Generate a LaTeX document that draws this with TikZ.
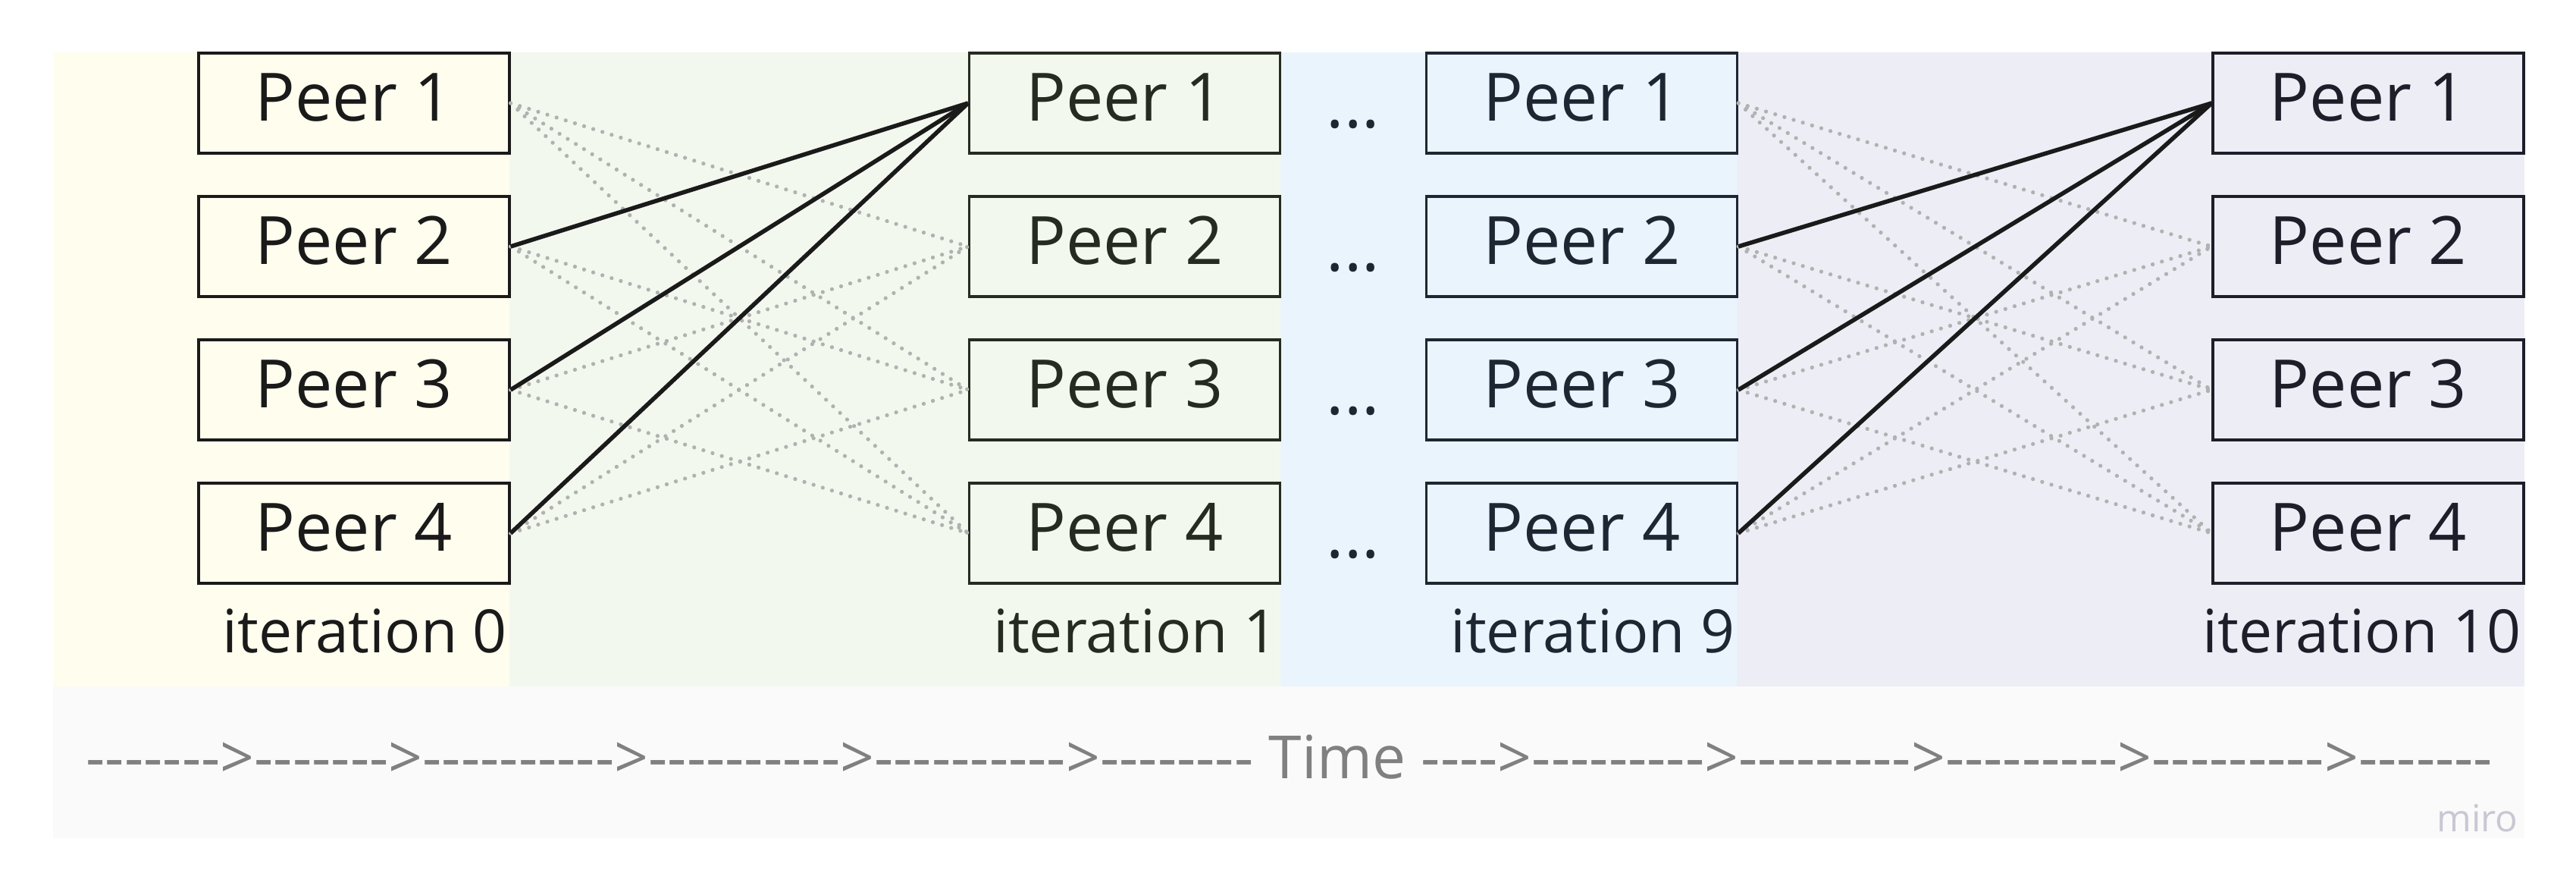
\documentclass[tikz,border=0pt]{standalone}
\usepackage{fontspec}
\setmainfont{Open Sans}
\newfontfamily\timefont{Open Sans}[Ligatures=TeXOff]
\usetikzlibrary{calc}

\definecolor{panelzero}{RGB}{255,254,238}
\definecolor{panelone}{RGB}{243,248,239}
\definecolor{panelnine}{RGB}{234,244,253}
\definecolor{panelten}{RGB}{237,237,246}
\definecolor{timeband}{RGB}{250,250,250}
\definecolor{inkzero}{RGB}{26,26,26}
\definecolor{inkone}{RGB}{38,43,34}
\definecolor{inknine}{RGB}{29,38,50}
\definecolor{inkten}{RGB}{30,30,42}
\definecolor{meshgray}{RGB}{176,178,176}
\definecolor{timegray}{RGB}{128,128,128}
\definecolor{mirogray}{RGB}{200,200,212}

\begin{document}
\begin{tikzpicture}[
        peer/.style={draw, minimum width=4.1cm, minimum height=1.32cm, inner sep=0pt, line width=0.9pt, text height=17.9pt, text depth=4.8pt, font=\fontsize{25}{30}\selectfont},
        iterlabel/.style={anchor=base east, inner sep=0pt, font=\fontsize{22.4}{26}\selectfont},
        skipdots/.style={anchor=base, inner sep=0pt, text=inknine, font=\fontsize{25}{30}\selectfont},
        gossip/.style={meshgray, line width=1.5pt, line cap=round, dash pattern=on 0.01pt off 3.6pt},
        pull/.style={inkzero, line width=1.6pt}]
        \useasboundingbox (0,0) rectangle (33.98,-11.76);
        % background panels
        \fill[panelzero] (0.70,-0.69) rectangle (6.72,-9.05);
        \fill[panelone] (6.72,-0.69) rectangle (16.89,-9.05);
        \fill[panelnine] (16.89,-0.69) rectangle (22.91,-9.05);
        \fill[panelten] (22.91,-0.69) rectangle (33.30,-9.05);
        \fill[timeband] (0.70,-9.05) rectangle (33.30,-11.05);

        % iteration 0
        \node[peer, draw=inkzero, text=inkzero] (it0p1) at (4.67,-1.36) {Peer 1};
        \node[peer, draw=inkzero, text=inkzero] (it0p2) at (4.67,-3.25) {Peer 2};
        \node[peer, draw=inkzero, text=inkzero] (it0p3) at (4.67,-5.14) {Peer 3};
        \node[peer, draw=inkzero, text=inkzero] (it0p4) at (4.67,-7.03) {Peer 4};
        \node[iterlabel, text=inkzero] (lab0) at ([xshift=-0.04cm, yshift=-0.90cm]it0p4.south east) {iteration 0};

        % iteration 1
        \node[peer, draw=inkone, text=inkone] (it1p1) at (14.835,-1.36) {Peer 1};
        \node[peer, draw=inkone, text=inkone] (it1p2) at (14.835,-3.25) {Peer 2};
        \node[peer, draw=inkone, text=inkone] (it1p3) at (14.835,-5.14) {Peer 3};
        \node[peer, draw=inkone, text=inkone] (it1p4) at (14.835,-7.03) {Peer 4};
        \node[iterlabel, text=inkone] (lab1) at ([xshift=-0.04cm, yshift=-0.90cm]it1p4.south east) {iteration 1};

        % iteration 9
        \node[peer, draw=inknine, text=inknine] (it9p1) at (20.865,-1.36) {Peer 1};
        \node[peer, draw=inknine, text=inknine] (it9p2) at (20.865,-3.25) {Peer 2};
        \node[peer, draw=inknine, text=inknine] (it9p3) at (20.865,-5.14) {Peer 3};
        \node[peer, draw=inknine, text=inknine] (it9p4) at (20.865,-7.03) {Peer 4};
        \node[iterlabel, text=inknine] (lab9) at ([xshift=-0.04cm, yshift=-0.90cm]it9p4.south east) {iteration 9};

        % iteration 10
        \node[peer, draw=inkten, text=inkten] (it10p1) at (31.24,-1.36) {Peer 1};
        \node[peer, draw=inkten, text=inkten] (it10p2) at (31.24,-3.25) {Peer 2};
        \node[peer, draw=inkten, text=inkten] (it10p3) at (31.24,-5.14) {Peer 3};
        \node[peer, draw=inkten, text=inkten] (it10p4) at (31.24,-7.03) {Peer 4};
        \node[iterlabel, text=inkten] (lab10) at ([xshift=-0.04cm, yshift=-0.90cm]it10p4.south east) {iteration 10};

        % skipped iterations
        \node[skipdots] (skip1) at ($(it1p1.center)!0.5!(it9p1.center)+(0,-0.33)$) {...};
        \node[skipdots] (skip2) at ($(it1p2.center)!0.5!(it9p2.center)+(0,-0.33)$) {...};
        \node[skipdots] (skip3) at ($(it1p3.center)!0.5!(it9p3.center)+(0,-0.33)$) {...};
        \node[skipdots] (skip4) at ($(it1p4.center)!0.5!(it9p4.center)+(0,-0.33)$) {...};

        % 0 -> 1
        \draw[gossip] (it0p1.east) -- (it1p2.west) (it0p1.east) -- (it1p3.west) (it0p1.east) -- (it1p4.west);
        \draw[gossip] (it0p2.east) -- (it1p3.west) (it0p2.east) -- (it1p4.west);
        \draw[gossip] (it0p3.east) -- (it1p2.west) (it0p3.east) -- (it1p4.west);
        \draw[gossip] (it0p4.east) -- (it1p2.west) (it0p4.east) -- (it1p3.west);
        \draw[pull] (it0p2.east) -- (it1p1.west);
        \draw[pull] (it0p3.east) -- (it1p1.west);
        \draw[pull] (it0p4.east) -- (it1p1.west);

        % 9 -> 10
        \draw[gossip] (it9p1.east) -- (it10p2.west) (it9p1.east) -- (it10p3.west) (it9p1.east) -- (it10p4.west);
        \draw[gossip] (it9p2.east) -- (it10p3.west) (it9p2.east) -- (it10p4.west);
        \draw[gossip] (it9p3.east) -- (it10p2.west) (it9p3.east) -- (it10p4.west);
        \draw[gossip] (it9p4.east) -- (it10p2.west) (it9p4.east) -- (it10p3.west);
        \draw[pull] (it9p2.east) -- (it10p1.west);
        \draw[pull] (it9p3.east) -- (it10p1.west);
        \draw[pull] (it9p4.east) -- (it10p1.west);

        % time axis
        \node[anchor=base, inner sep=0pt, text=timegray, font=\timefont\fontsize{22.35}{26}\selectfont] (timeline) at (17.00,-10.26) {------->------->---------->---------->---------->-------- Time ---->--------->--------->--------->--------->-------};
        \node[anchor=base east, inner sep=0pt, text=mirogray, font=\fontsize{14}{16}\selectfont] (miro) at (33.22,-10.96) {miro};
    \end{tikzpicture}
\end{document}
